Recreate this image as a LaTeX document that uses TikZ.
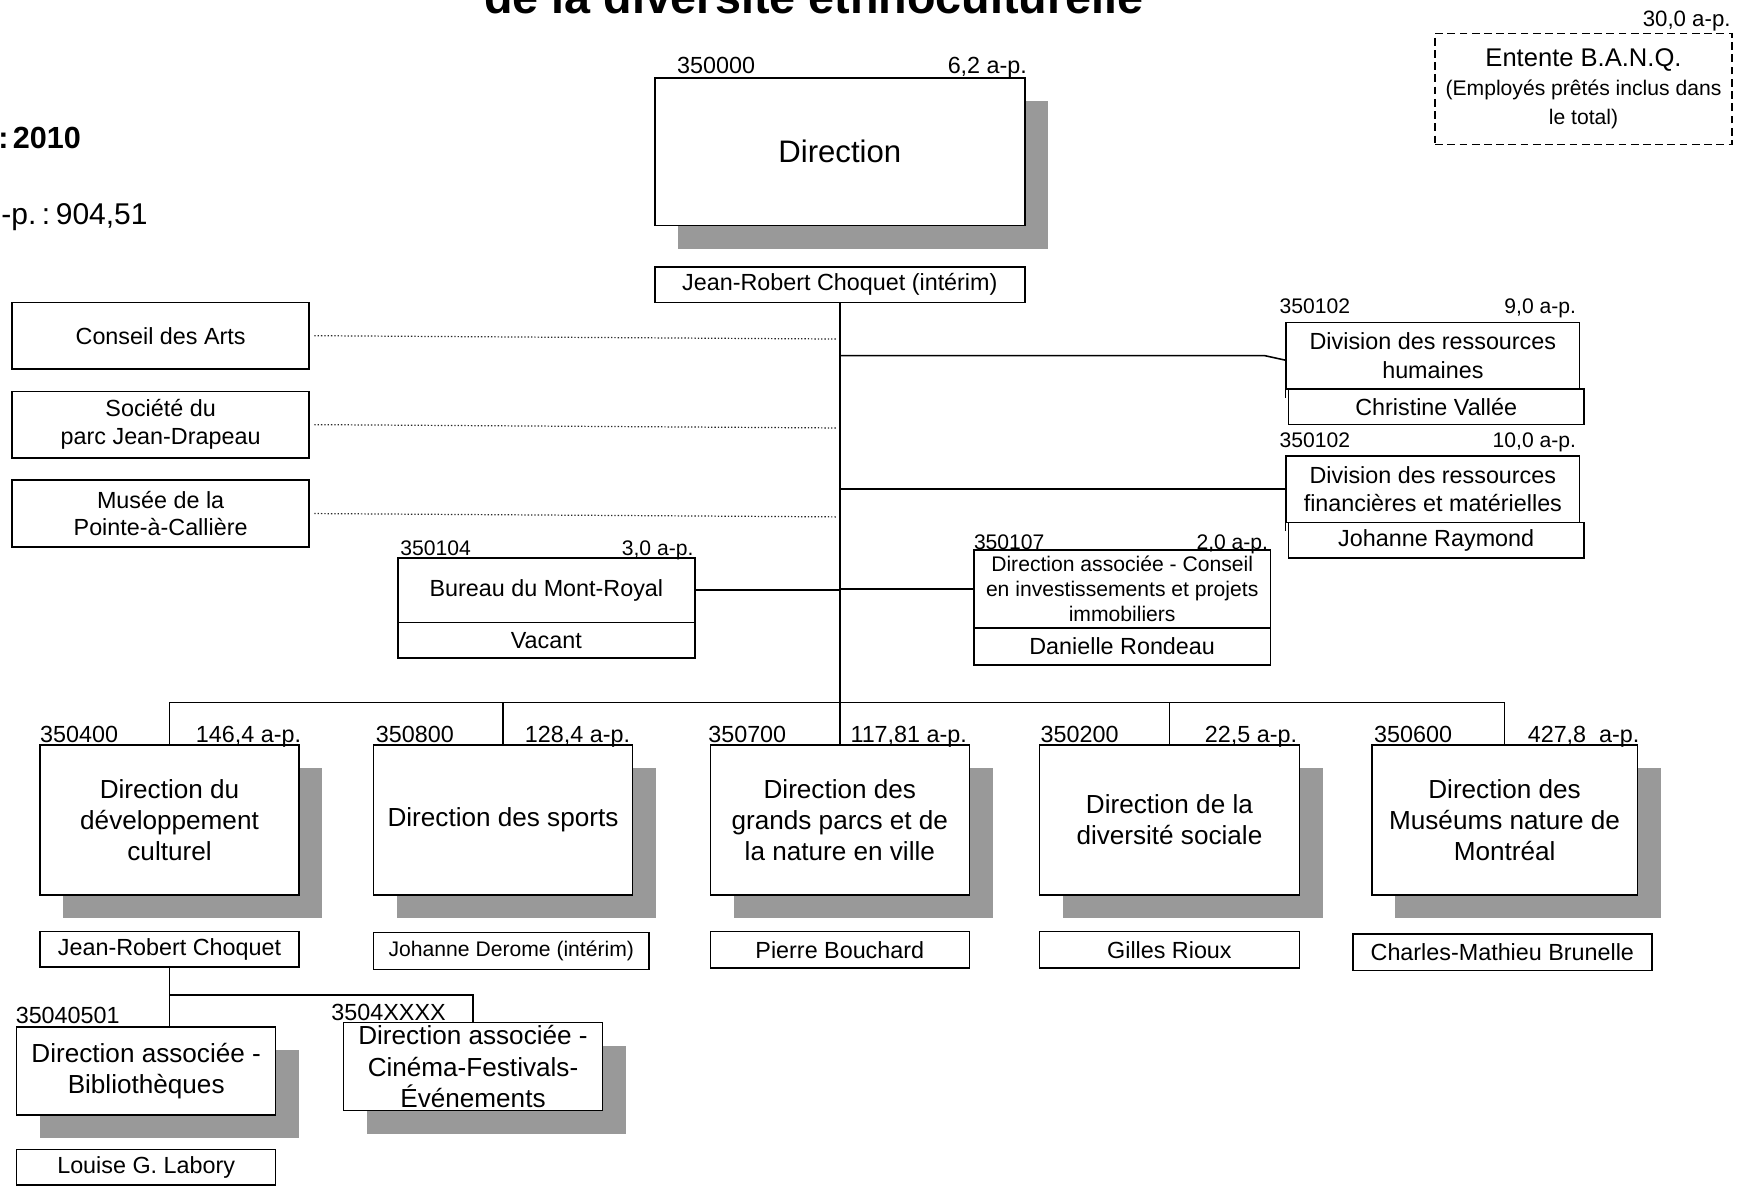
\documentclass[tikz,border=0pt]{standalone}
\usepackage{fontspec}
\setmainfont{Liberation Sans}
\usetikzlibrary{shadows,calc}
\definecolor{shgray}{RGB}{153,153,153}
\tikzset{
  unit/.style={draw=black, line width=1.4pt, fill=white, align=center, inner sep=0pt,
    font=\fontsize{21}{25}\selectfont},
  shunit/.style={unit, drop shadow={shadow xshift=21pt, shadow yshift=-21pt, fill=shgray, opacity=1}},
  bigtxt/.style={font=\fontsize{23.5}{28}\selectfont},
  namebox/.style={unit, minimum height=32pt},
  code/.style={inner sep=0pt, anchor=base west, font=\fontsize{21}{25}\selectfont},
  fte/.style={inner sep=0pt, anchor=base east, font=\fontsize{21}{25}\selectfont},
  codesm/.style={inner sep=0pt, anchor=base west, font=\fontsize{19}{23}\selectfont},
  ftesm/.style={inner sep=0pt, anchor=base east, font=\fontsize{19}{23}\selectfont},
  link/.style={line width=1.4pt},
  dotlink/.style={line width=1.1pt, dash pattern=on 1.2pt off 1.8pt, black!85},
}
\begin{document}
\begin{tikzpicture}[x=1pt, y=-1pt]
\useasboundingbox (0,0) rectangle (1568,1067);

% headings (partly outside the page)
\node[anchor=base, inner sep=0pt, font=\fontsize{42}{50}\selectfont\bfseries] (title) at (732,12) {de la diversité ethnoculturelle};
\node[anchor=base east, inner sep=0pt, font=\fontsize{27.5}{33}\selectfont\bfseries] (annee) at (73,134) {:\hspace{4pt}2010};
\node[anchor=base east, inner sep=0pt, font=\fontsize{27}{33}\selectfont] (total) at (133,202) {-p.\hspace{5pt}:\hspace{5pt}904,51};

% Entente B.A.N.Q.
\node[draw, line width=1.2pt, dash pattern=on 7pt off 4pt, minimum width=267pt, minimum height=100pt,
      align=center, inner sep=0pt, font=\fontsize{19}{26}\selectfont] (banq) at (1424.5,80)
      {{\fontsize{23}{26}\selectfont Entente B.A.N.Q.}\\(Employés prêtés inclus dans\\le total)};
\node[inner sep=0pt, anchor=base east, font=\fontsize{20}{24}\selectfont] (banqfte) at (1557,24) {30,0 a-p.};

% Direction
\node[shunit, minimum width=333pt, minimum height=133pt, font=\fontsize{28}{33}\selectfont] (dir) at (755.5,136.5) {Direction};
\node[code] (dircode) at (609,66) {350000};
\node[fte] (dirfte) at (924,66) {6,2 a-p.};
\node[namebox, minimum width=333pt] (dirname) at (755.5,256) {Jean-Robert Choquet (intérim)};

% left boxes
\node[unit, minimum width=267pt, minimum height=60pt] (arts) at (144.5,302) {Conseil des Arts};
\node[unit, minimum width=267pt, minimum height=60pt] (jd) at (144.5,382) {Société du\\parc Jean-Drapeau};
\node[unit, minimum width=267pt, minimum height=60pt] (pac) at (144.5,462) {Musée de la\\Pointe-à-Callière};
\coordinate (tarts) at (753,305);
\coordinate (tjd) at (753,385);
\coordinate (tpac) at (753,465);
\draw[dotlink] ([xshift=4pt]arts.east) -- (tarts);
\draw[dotlink] ([xshift=4pt]jd.east) -- (tjd);
\draw[dotlink] ([xshift=4pt]pac.east) -- (tpac);

% Bureau du Mont-Royal
\node[unit, minimum width=267pt, minimum height=58pt] (mr) at (491.5,531) {Bureau du Mont-Royal};
\node[namebox, minimum width=267pt] (mrname) at (491.5,576) {Vacant};
\node[codesm] (mrcode) at (360,500) {350104};
\node[ftesm] (mrfte) at (624,500) {3,0 a-p.};

% Direction associee - Conseil
\node[unit, minimum width=267pt, minimum height=70pt, font=\fontsize{19}{22.5}\selectfont] (daci) at (1009.5,530)
  {Direction associée - Conseil\\en investissements et projets\\immobiliers};
\node[namebox, minimum width=267pt, minimum height=33pt] (daciname) at (1009.5,581.5) {Danielle Rondeau};
\node[codesm] (dacicode) at (876,494) {350107};
\node[ftesm] (dacifte) at (1141,494) {2,0 a-p.};

% Division des ressources humaines
\node[unit, minimum width=264pt, minimum height=60pt, font=\fontsize{21}{26}\selectfont] (drh) at (1289,320) {Division des ressources\\humaines};
\draw[link] (drh.south west) -- ++(0,7);
\node[namebox, minimum width=266pt] (drhname) at (1292,366) {Christine Vallée};
\node[codesm] (drhcode) at (1151,282) {350102};
\node[ftesm] (drhfte) at (1418,282) {9,0 a-p.};

% Division des ressources financieres
\node[unit, minimum width=264pt, minimum height=60pt, font=\fontsize{21}{26}\selectfont] (drfm) at (1289,440) {Division des ressources\\financières et matérielles};
\draw[link] (drfm.south west) -- ++(0,7);
\node[namebox, minimum width=266pt] (drfmname) at (1292,486) {Johanne Raymond};
\node[codesm] (drfmcode) at (1151,403) {350102};
\node[ftesm] (drfmfte) at (1418,403) {10,0 a-p.};

% bottom row
\node[shunit, bigtxt, minimum width=233pt, minimum height=135pt] (cult) at (152.5,737.5) {Direction du\\développement\\culturel};
\node[shunit, bigtxt, minimum width=233pt, minimum height=135pt] (sports) at (452.5,737.5) {Direction des sports};
\node[shunit, bigtxt, minimum width=233pt, minimum height=135pt] (parcs) at (755.5,737.5) {Direction des\\grands parcs et de\\la nature en ville};
\node[shunit, bigtxt, minimum width=234pt, minimum height=135pt] (divsoc) at (1052,737.5) {Direction de la\\diversité sociale};
\node[shunit, bigtxt, minimum width=239pt, minimum height=135pt] (museums) at (1353.5,737.5) {Direction des\\Muséums nature de\\Montréal};

\node[code] (cultcode) at (36,668) {350400};
\node[fte] (cultfte) at (271,668) {146,4 a-p.};
\node[code] (sportscode) at (338,668) {350800};
\node[fte] (sportsfte) at (567,668) {128,4 a-p.};
\node[code] (parcscode) at (637,668) {350700};
\node[fte] (parcsfte) at (870,668) {117,81 a-p.};
\node[code] (divsoccode) at (936,668) {350200};
\node[fte] (divsocfte) at (1167,668) {22,5 a-p.};
\node[code] (museumscode) at (1236,668) {350600};
\node[fte] (museumsfte) at (1475,668) {427,8\ \ a-p.};

\node[namebox, minimum width=233pt] (cultname) at (152.5,854) {Jean-Robert Choquet};
\node[namebox, minimum width=248pt, minimum height=33pt, font=\fontsize{19}{23}\selectfont] (sportsname) at (460,855.5) {Johanne Derome (intérim)};
\node[namebox, minimum width=233pt, minimum height=33pt] (parcsname) at (755.5,854.5) {Pierre Bouchard};
\node[namebox, minimum width=234pt, minimum height=33pt] (divsocname) at (1052,854.5) {Gilles Rioux};
\node[namebox, minimum width=269pt, minimum height=33pt] (museumsname) at (1351.5,856.5) {Charles-Mathieu Brunelle};

% sub units
\node[shunit, bigtxt, minimum width=233pt, minimum height=79pt] (bib) at (131.5,963.5) {Direction associée -\\Bibliothèques};
\node[shunit, bigtxt, minimum width=233pt, minimum height=79pt] (cine) at (425.5,959.5) {Direction associée -\\Cinéma-Festivals-\\Événements};
\node[namebox, minimum width=233pt] (bibname) at (131.5,1050) {Louise G. Labory};
\node[code] (bibcode) at (14,921) {35040501};
\node[code] (cinecode) at (298,918) {3504XXXX};

% connectors
\coordinate (bus) at (0,632);
\coordinate (sub) at (0,895);
\coordinate (tdrh) at (755.5,320);
\coordinate (bend) at (1138,320);
\draw[link] (dirname.south) -- (parcs.north);
\draw[link] (tdrh) -- (bend) -- ([yshift=-4pt]drh.west);
\draw[link] (drfm.west -| dirname.south) -- (drfm.west);
\draw[link] (mr.east) -- (mr.east -| dirname.south);
\draw[link] (daci.west -| dirname.south) -- (daci.west);
\draw[link] (cult.north) -- (cult.north |- bus) -- (museums.north |- bus) -- (museums.north);
\draw[link] (sports.north) -- (sports.north |- bus);
\draw[link] (divsoc.north) -- (divsoc.north |- bus);
\draw[link] (cultname.south) -- (cultname.south |- bib.north);
\draw[link] (cultname.south |- sub) -- (cine.north |- sub) -- (cine.north);
\end{tikzpicture}
\end{document}
